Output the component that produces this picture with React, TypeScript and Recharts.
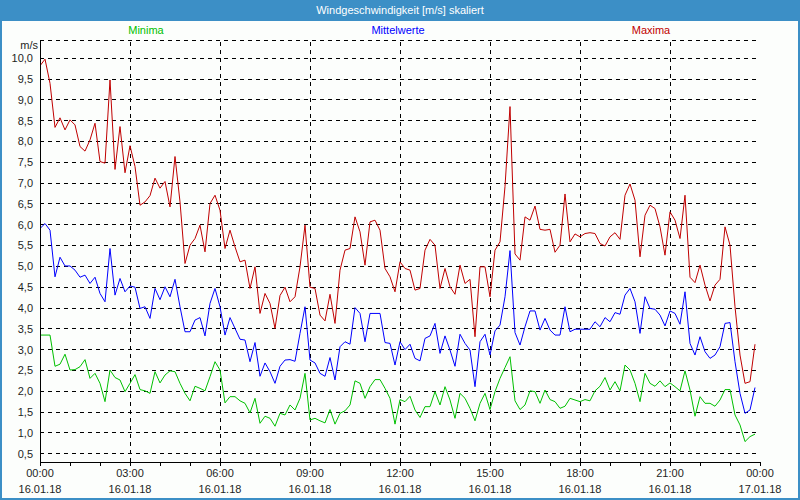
import React from 'react';
import { LineChart, Line, XAxis, YAxis, CartesianGrid, ReferenceLine } from 'recharts';

// 10-minute steps from 00:00 on 16.01.18
const maxima = [
  9.82, 9.98, 9.4, 8.34, 8.57, 8.28, 8.52, 8.4, 7.88, 7.77, 8.04, 8.44,
  7.52, 7.48, 9.48, 7.33, 8.36, 7.25, 7.9, 7.4, 6.47, 6.55, 6.7, 7.12,
  6.88, 7.04, 6.43, 7.64, 6.55, 5.07, 5.51, 5.67, 5.99, 5.35, 6.51, 6.71,
  6.35, 5.43, 5.87, 5.47, 5.11, 5.15, 4.47, 4.99, 3.87, 4.35, 4.11, 3.51,
  4.3, 4.5, 4.15, 4.27, 4.99, 5.99, 4.5, 4.47, 3.83, 3.69, 4.33, 3.63,
  4.91, 5.39, 5.43, 6.19, 5.83, 5.03, 6.07, 6.11, 5.87, 4.95, 4.75, 4.39,
  5.11, 4.95, 4.91, 4.43, 4.47, 5.39, 5.65, 5.51, 4.47, 4.95, 4.51, 4.33,
  5.03, 4.59, 4.69, 3.31, 4.99, 4.99, 4.27, 5.39, 5.59, 6.92, 8.84, 5.3,
  5.15, 6.19, 6.11, 6.45, 5.89, 5.87, 5.89, 5.34, 5.51, 6.74, 5.59, 5.78,
  5.71, 5.79, 5.81, 5.79, 5.55, 5.49, 5.71, 5.81, 5.65, 6.71, 6.98, 6.59,
  5.23, 6.23, 6.47, 6.39, 5.95, 5.27, 6.31, 6.11, 5.67, 6.71, 4.74, 4.61,
  5.03, 4.55, 4.17, 4.55, 4.69, 5.95, 5.51, 4.03, 2.87, 2.19, 2.23, 3.13,
];

const mittelwerte = [
  5.91, 6.03, 5.87, 4.75, 5.22, 5.01, 5.01, 4.91, 4.74, 4.79, 4.59, 4.74,
  4.35, 4.15, 5.43, 4.31, 4.71, 4.39, 4.53, 4.5, 3.99, 4.03, 3.75, 4.47,
  4.2, 4.51, 4.27, 4.69, 4.03, 3.43, 3.43, 3.71, 3.77, 3.33, 4.11, 4.47,
  4.03, 3.35, 3.77, 3.51, 3.25, 3.23, 2.71, 3.17, 2.36, 2.68, 2.47, 2.19,
  2.6, 2.75, 2.76, 2.72, 3.39, 4.03, 2.75, 2.68, 2.43, 2.36, 2.81, 2.27,
  3.07, 3.19, 3.13, 4.01, 3.87, 3.19, 3.87, 3.87, 3.87, 3.17, 3.15, 2.63,
  3.19, 3.0, 3.13, 2.79, 2.73, 3.27, 3.33, 3.63, 2.91, 3.33, 2.99, 2.6,
  3.37, 3.15, 2.99, 2.11, 3.19, 3.37, 2.87, 3.45, 3.59, 4.27, 5.38, 3.41,
  3.11, 3.55, 3.93, 3.93, 3.47, 3.75, 3.47, 3.35, 3.35, 4.03, 3.43, 3.49,
  3.49, 3.49, 3.49, 3.67, 3.55, 3.77, 3.67, 3.89, 3.85, 4.31, 4.47, 4.15,
  3.39, 4.27, 3.99, 3.97, 3.83, 3.57, 3.93, 3.87, 3.61, 4.39, 3.15, 2.87,
  3.31, 2.95, 2.79, 2.87, 3.07, 3.63, 3.65, 2.71, 1.95, 1.47, 1.55, 2.09,
];

const minima = [
  3.35, 3.35, 3.35, 2.6, 2.65, 2.89, 2.51, 2.52, 2.59, 2.76, 2.31, 2.43,
  2.19, 1.75, 2.51, 2.33, 2.27, 1.99, 2.19, 2.4, 2.04, 2.01, 1.95, 2.47,
  2.2, 2.39, 2.49, 2.47, 2.19, 1.95, 1.77, 2.12, 2.07, 2.01, 2.35, 2.71,
  2.51, 1.72, 1.87, 1.87, 1.77, 1.71, 1.48, 1.83, 1.23, 1.4, 1.35, 1.16,
  1.47, 1.43, 1.67, 1.55, 1.83, 2.43, 1.31, 1.35, 1.29, 1.24, 1.56, 1.21,
  1.47, 1.53, 1.67, 2.25, 2.19, 1.83, 2.11, 2.28, 2.28, 2.07, 1.83, 1.21,
  1.8, 1.75, 1.88, 1.55, 1.37, 1.63, 1.63, 1.99, 1.67, 2.11, 1.79, 1.35,
  1.95, 1.83, 1.59, 1.29, 1.71, 1.95, 1.56, 1.99, 2.31, 2.57, 2.83, 1.77,
  1.56, 1.67, 2.01, 1.99, 1.71, 2.03, 1.8, 1.75, 1.59, 1.64, 1.83, 1.79,
  1.75, 1.8, 1.77, 2.01, 2.12, 2.33, 2.03, 2.23, 2.01, 2.63, 2.51, 2.19,
  1.75, 2.43, 2.19, 2.12, 2.25, 2.11, 2.2, 2.11, 2.01, 2.49, 2.03, 1.4,
  1.87, 1.71, 1.71, 1.64, 1.79, 2.04, 2.04, 1.43, 1.19, 0.79, 0.91, 0.97,
];

const hourTicks = [0, 6, 12, 18, 24, 30, 36, 42, 48, 54, 60, 66, 72, 78, 84, 90, 96, 102, 108, 114, 120, 126, 132, 138, 144];
const labelTicks = [0, 18, 36, 54, 72, 90, 108, 126, 144];
const timeLabels = ['00:00', '03:00', '06:00', '09:00', '12:00', '15:00', '18:00', '21:00', '00:00'];
const dateLabels = ['16.01.18', '16.01.18', '16.01.18', '16.01.18', '16.01.18', '16.01.18', '16.01.18', '16.01.18', '17.01.18'];
const gridX = [18, 36, 54, 72, 90, 108, 126];
const yTicks = [0.5, 1, 1.5, 2, 2.5, 3, 3.5, 4, 4.5, 5, 5.5, 6, 6.5, 7, 7.5, 8, 8.5, 9, 9.5, 10];

const series = [
  { key: 'min', name: 'Minima', color: '#00c000', center: 146 },
  { key: 'avg', name: 'Mittelwerte', color: '#0000ff', center: 398 },
  { key: 'max', name: 'Maxima', color: '#c00000', center: 651 },
];

const rows = maxima.map((v, i) => ({ t: i, min: minima[i], avg: mittelwerte[i], max: v }));

const FONT = '"Liberation Sans", Arial, sans-serif';
const FRAME = '#3c8fc6';

const TimeTick = (props: any) => {
  const { x, y, payload } = props;
  const idx = labelTicks.indexOf(payload.value);
  if (idx < 0) return <g />;
  return (
    <g>
      <text x={x} y={y + 9} textAnchor="middle" fontSize={11} fontFamily={FONT} fill="#1e1e1e">
        {timeLabels[idx]}
      </text>
      <text x={x} y={y + 25} textAnchor="middle" fontSize={11} fontFamily={FONT} fill="#1e1e1e">
        {dateLabels[idx]}
      </text>
    </g>
  );
};

export default function App() {
  return (
    <div style={{ position: 'absolute', left: 0, top: 0, width: 800, height: 500, background: '#fcfefc', fontFamily: FONT }}>
      <LineChart width={800} height={500} data={rows} margin={{ top: 40, right: 40, bottom: 0, left: 0 }}>
        <CartesianGrid vertical={false} stroke="#000" strokeDasharray="4 4" shapeRendering="crispEdges" />
        <XAxis
          dataKey="t"
          type="number"
          domain={[0, 144]}
          ticks={hourTicks}
          interval={0}
          height={38}
          tickSize={4}
          tickLine={{ stroke: '#000', shapeRendering: 'crispEdges' }}
          axisLine={{ stroke: '#000', shapeRendering: 'crispEdges' }}
          tick={<TimeTick />}
          allowDataOverflow
        />
        <XAxis xAxisId="top" orientation="top" type="number" domain={[0, 144]} height={0} tick={false} tickLine={false} axisLine={{ stroke: '#000', shapeRendering: 'crispEdges' }} />
        <YAxis
          type="number"
          domain={[0.3, 10.44]}
          ticks={yTicks}
          interval={0}
          width={40}
          tickSize={5}
          tickLine={false}
          axisLine={{ stroke: '#000', shapeRendering: 'crispEdges' }}
          tick={{ fontSize: 11, fontFamily: FONT, fill: '#1e1e1e' }}
          tickFormatter={(v: number) => v.toFixed(1).replace('.', ',')}
          allowDataOverflow
          label={(p: any) => (
            <text x={p.viewBox.x + p.viewBox.width - 2} y={p.viewBox.y + 9} textAnchor="end" fontSize={11} fontFamily={FONT} fill="#1e1e1e">
              m/s
            </text>
          )}
        />
        <YAxis yAxisId="right" orientation="right" type="number" domain={[0.3, 10.44]} width={0} tick={false} tickLine={false} axisLine={{ stroke: '#000', shapeRendering: 'crispEdges' }} />
        {gridX.map(v => (
          <ReferenceLine key={v} x={v} stroke="#000" strokeDasharray="4 4" shapeRendering="crispEdges" />
        ))}
        {series.map(s => (
          <Line key={s.key} type="linear" dataKey={s.key} name={s.name} stroke={s.color} strokeWidth={1} dot={false} isAnimationActive={false} />
        ))}
      </LineChart>
      <div style={{ position: 'absolute', left: 0, top: 0, width: 800, height: 21, background: FRAME, color: '#fff', fontSize: 11, lineHeight: '21px', textAlign: 'center' }}>
        Windgeschwindigkeit [m/s] skaliert
      </div>
      <div style={{ position: 'absolute', left: 0, top: 21, width: 2, height: 479, background: FRAME }} />
      <div style={{ position: 'absolute', left: 798, top: 21, width: 2, height: 479, background: FRAME }} />
      <div style={{ position: 'absolute', left: 0, top: 498, width: 800, height: 2, background: FRAME }} />
      {series.map(s => (
        <div key={s.key} style={{ position: 'absolute', top: 23, left: s.center - 60, width: 120, textAlign: 'center', fontSize: 11, lineHeight: '14px', color: s.color }}>
          {s.name}
        </div>
      ))}
    </div>
  );
}
